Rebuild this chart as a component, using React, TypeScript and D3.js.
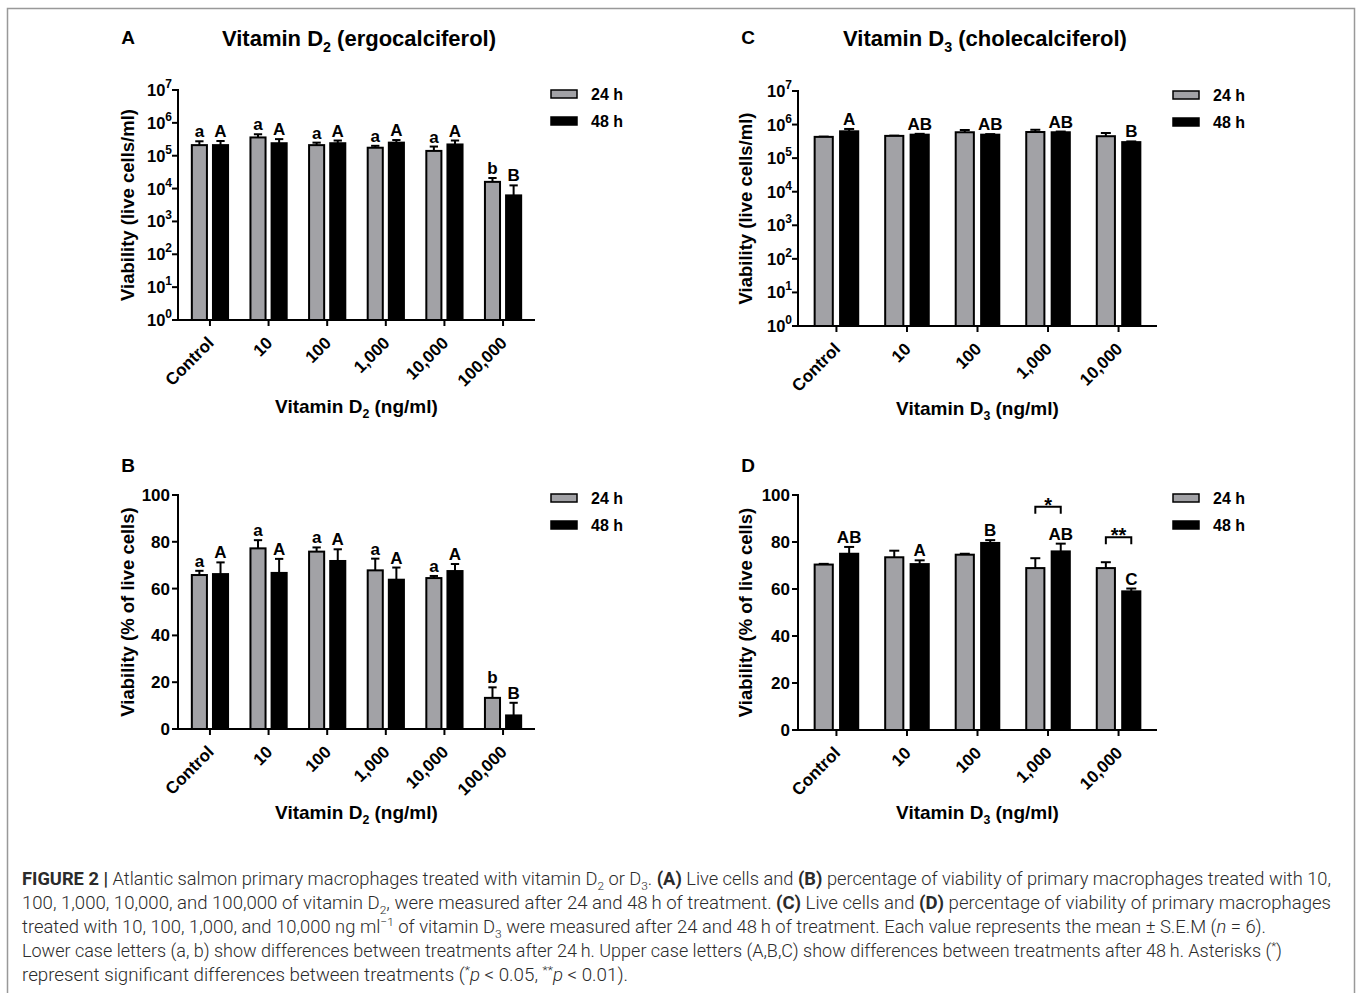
import React from 'react';
import * as d3 from 'd3';

// categories
const catsD2 = ['Control', '10', '100', '1,000', '10,000', '100,000'];
const catsD3 = ['Control', '10', '100', '1,000', '10,000'];
const seriesNames = ['24 h', '48 h'];

// A - vitamin D2, live cells/ml (mean, sem)
const d2Live24 = [2.1e5, 3.6e5, 2.1e5, 1.75e5, 1.4e5, 1.6e4];
const d2Live24Sem = [0.65e5, 0.9e5, 0.4e5, 0.25e5, 0.5e5, 0.5e4];
const d2Live48 = [2.1e5, 2.4e5, 2.4e5, 2.5e5, 2.2e5, 6.2e3];
const d2Live48Sem = [0.7e5, 0.8e5, 0.5e5, 0.5e5, 0.7e5, 6.3e3];
const d2Letters24 = ['a', 'a', 'a', 'a', 'a', 'b'];
const d2Letters48 = ['A', 'A', 'A', 'A', 'A', 'B'];

// B - vitamin D2, % viability
const d2Pct24 = [65.8, 77.2, 75.8, 67.8, 64.5, 13.3];
const d2Pct24Sem = [1.8, 3.5, 1.8, 5.0, 0.9, 4.5];
const d2Pct48 = [66.2, 66.7, 71.8, 63.8, 67.5, 5.8];
const d2Pct48Sem = [5.0, 6.0, 5.0, 5.2, 3.0, 5.4];

// C - vitamin D3, live cells/ml
const d3Live24 = [4.3e5, 4.6e5, 5.9e5, 6.0e5, 4.5e5];
const d3Live24Sem = [0.08e5, 0.08e5, 1.0e5, 1.0e5, 1.1e5];
const d3Live48 = [6.3e5, 5.0e5, 5.0e5, 5.9e5, 3.0e5];
const d3Live48Sem = [1.1e5, 0.3e5, 0.2e5, 0.3e5, 0.15e5];
const d3LiveLetters48 = ['A', 'AB', 'AB', 'AB', 'B'];

// D - vitamin D3, % viability
const d3Pct24 = [70.4, 73.5, 74.6, 68.9, 68.9];
const d3Pct24Sem = [0.3, 2.8, 0.4, 4.2, 2.5];
const d3Pct48 = [75.0, 70.6, 79.6, 76.0, 59.0];
const d3Pct48Sem = [2.9, 1.6, 1.2, 3.3, 1.2];
const d3PctLetters48 = ['AB', 'A', 'B', 'AB', 'C'];
const d3PctSig = [
  { cat: '1,000', level: 95, mark: '*' },
  { cat: '10,000', level: 82, mark: '**' },
];

const logTicks = [1, 10, 100, 1e3, 1e4, 1e5, 1e6, 1e7];
const pctTicks = [0, 20, 40, 60, 80, 100];

const FONT = "'Liberation Sans', Arial, Helvetica, sans-serif";
const GRAY = '#a2a2a6';

// caption lines: [text, style]
const captionLines = [
  [['FIGURE 2 |', 'b'], [' Atlantic salmon primary macrophages treated with vitamin D', ''], ['2', 'sub'], [' or D', ''], ['3', 'sub'], ['. ', ''], ['(A)', 'b'], [' Live cells and ', ''], ['(B)', 'b'], [' percentage of viability of primary macrophages treated with 10,', '']],
  [['100, 1,000, 10,000, and 100,000 of vitamin D', ''], ['2', 'sub'], [', were measured after 24 and 48\u2009h of treatment. ', ''], ['(C)', 'b'], [' Live cells and ', ''], ['(D)', 'b'], [' percentage of viability of primary macrophages', '']],
  [['treated with 10, 100, 1,000, and 10,000 ng ml', ''], ['\u22121', 'sup'], [' of vitamin D', ''], ['3', 'sub'], [' were measured after 24 and 48\u2009h of treatment. Each value represents the mean \u00b1 S.E.M (', ''], ['n', 'i'], [' = 6).', '']],
  [['Lower case letters (a, b) show differences between treatments after 24\u2009h. Upper case letters (A,B,C) show differences between treatments after 48\u2009h. Asterisks (', ''], ['*', 'sup'], [')', '']],
  [['represent significant differences between treatments (', ''], ['*', 'sup'], ['p', 'i'], [' < 0.05, ', ''], ['**', 'sup'], ['p', 'i'], [' < 0.01).', '']],
];
const captionEnds = [1331, 1331, 1266, 1282, 628];

function RichText({ x, y, parts, size, anchor = 'start', weight = 'bold', family = FONT, fill = '#000', length, transform }: any) {
  let shift = 0;
  const subSize = size * 0.65;
  return (
    <text x={x} y={y} fontSize={size} fontFamily={family} fontWeight={weight} fill={fill}
      textAnchor={anchor} transform={transform}
      textLength={length} lengthAdjust={length ? 'spacingAndGlyphs' : undefined}>
      {parts.map(([t, st]: any, i: number) => {
        let target = 0;
        if (st === 'sub') target = size * 0.28;
        if (st === 'sup') target = -size * 0.38;
        const dy = target - shift;
        shift = target;
        return (
          <tspan key={i} dy={dy}
            fontSize={st === 'sub' || st === 'sup' ? subSize : undefined}
            fontWeight={st === 'b' ? 'bold' : undefined}
            fontStyle={st === 'i' ? 'italic' : undefined}>{t}</tspan>
        );
      })}
    </text>
  );
}

function Panel({ cfg }: any) {
  const { x0, x1, yTop, yBottom, log, cats } = cfg;
  const x = d3.scaleBand().domain(cats).range([x0, x1]).paddingInner(0).paddingOuter(0.045);
  const sub = d3.scaleBand().domain(seriesNames).range([0, x.bandwidth()]).paddingInner(0.286).paddingOuter(0.53);
  const y: any = log
    ? d3.scaleLog().domain([1, 1e7]).range([yBottom, yTop])
    : d3.scaleLinear().domain([0, 100]).range([yBottom, yTop]);
  const bw = sub.bandwidth();
  const capW = bw * 0.55;
  const series = [
    { name: '24 h', mean: cfg.m24, sem: cfg.s24, letters: cfg.l24, fill: GRAY },
    { name: '48 h', mean: cfg.m48, sem: cfg.s48, letters: cfg.l48, fill: '#000' },
  ];
  const ticks = log ? logTicks : pctTicks;
  const cx = (c: string) => (x(c) as number) + x.bandwidth() / 2;

  return (
    <g>
      {/* bars */}
      {series.map((s) => cats.map((c: string, i: number) => {
        const bx = (x(c) as number) + (sub(s.name) as number);
        const top = y(s.mean[i]);
        const errTop = y(s.mean[i] + s.sem[i]);
        const mx = bx + bw / 2;
        return (
          <g key={s.name + c}>
            <line x1={mx} x2={mx} y1={top} y2={errTop} stroke="#000" strokeWidth={2} />
            <line x1={mx - capW / 2} x2={mx + capW / 2} y1={errTop} y2={errTop} stroke="#000" strokeWidth={2} />
            <rect x={bx} y={top} width={bw} height={yBottom - top} fill={s.fill} stroke="#000" strokeWidth={2} />
            {s.letters && (
              <text x={mx} y={errTop - 4} textAnchor="middle" fontFamily={FONT} fontWeight="bold" fontSize={17}>{s.letters[i]}</text>
            )}
          </g>
        );
      }))}
      {/* axes */}
      <line x1={x0} x2={x0} y1={yTop - 1} y2={yBottom + 1} stroke="#000" strokeWidth={2} />
      <line x1={x0 - 1} x2={x1} y1={yBottom} y2={yBottom} stroke="#000" strokeWidth={2} />
      {ticks.map((t) => (
        <g key={t}>
          <line x1={x0 - 6} x2={x0} y1={y(t)} y2={y(t)} stroke="#000" strokeWidth={2} />
          {log ? (
            <text x={x0 - 6} y={y(t) + 6} textAnchor="end" fontFamily={FONT} fontWeight="bold" fontSize={16.5}>
              10<tspan fontSize={12} dy={-8}>{Math.round(Math.log10(t))}</tspan>
            </text>
          ) : (
            <text x={x0 - 8} y={y(t) + 6} textAnchor="end" fontFamily={FONT} fontWeight="bold" fontSize={17}>{t}</text>
          )}
        </g>
      ))}
      {cats.map((c: string) => (
        <g key={c}>
          <line x1={cx(c)} x2={cx(c)} y1={yBottom} y2={yBottom + 6} stroke="#000" strokeWidth={2} />
          <text transform={`translate(${cx(c) + 5},${yBottom + 24}) rotate(-45)`} textAnchor="end"
            fontFamily={FONT} fontWeight="bold" fontSize={17}>{c}</text>
        </g>
      ))}
      {/* significance brackets */}
      {(cfg.sig || []).map((s: any) => {
        const a = (x(s.cat) as number) + (sub('24 h') as number) + bw / 2;
        const b = (x(s.cat) as number) + (sub('48 h') as number) + bw / 2;
        const by = y(s.level);
        return (
          <g key={s.cat}>
            <path d={`M${a},${by + 7}V${by}H${b}V${by + 7}`} fill="none" stroke="#000" strokeWidth={2} />
            <text x={(a + b) / 2} y={by + 5} textAnchor="middle" fontFamily={FONT} fontWeight="bold" fontSize={20}>{s.mark}</text>
          </g>
        );
      })}
      {/* legend */}
      {series.map((s, i) => (
        <g key={s.name}>
          <rect x={cfg.legendX} y={cfg.legendY + i * 27} width={26} height={8} fill={s.fill} stroke="#000" strokeWidth={1.5} />
          <text x={cfg.legendX + 40} y={cfg.legendY + i * 27 + 10} fontFamily={FONT} fontWeight="bold" fontSize={16}>{s.name}</text>
        </g>
      ))}
      {/* labels */}
      <text x={cfg.tag[0]} y={cfg.tag[1]} textAnchor="middle" fontFamily={FONT} fontWeight="bold" fontSize={19}>{cfg.tag[2]}</text>
      {cfg.title && <RichText x={cfg.title[0]} y={cfg.title[1]} parts={cfg.title[2]} size={22} anchor="middle" />}
      <RichText x={(x0 + x1) / 2} y={cfg.xTitleY} parts={cfg.xTitle} size={19} anchor="middle" />
      <text transform={`translate(${cfg.yTitleX},${(yTop + yBottom) / 2}) rotate(-90)`} textAnchor="middle"
        fontFamily={FONT} fontWeight="bold" fontSize={18.5}>{cfg.yTitle}</text>
    </g>
  );
}

const panels = [
  {
    x0: 178, x1: 535, yTop: 90, yBottom: 320, log: true, cats: catsD2,
    m24: d2Live24, s24: d2Live24Sem, m48: d2Live48, s48: d2Live48Sem, l24: d2Letters24, l48: d2Letters48,
    legendX: 551, legendY: 90, tag: [128, 44, 'A'],
    title: [359, 46, [['Vitamin D', ''], ['2', 'sub'], [' (ergocalciferol)', '']]],
    xTitle: [['Vitamin D', ''], ['2', 'sub'], [' (ng/ml)', '']], xTitleY: 413,
    yTitle: 'Viability (live cells/ml)', yTitleX: 134,
  },
  {
    x0: 178, x1: 535, yTop: 495, yBottom: 729, log: false, cats: catsD2,
    m24: d2Pct24, s24: d2Pct24Sem, m48: d2Pct48, s48: d2Pct48Sem, l24: d2Letters24, l48: d2Letters48,
    legendX: 551, legendY: 494, tag: [128, 472, 'B'],
    xTitle: [['Vitamin D', ''], ['2', 'sub'], [' (ng/ml)', '']], xTitleY: 819,
    yTitle: 'Viability (% of live cells)', yTitleX: 134,
  },
  {
    x0: 798, x1: 1157, yTop: 91, yBottom: 326, log: true, cats: catsD3,
    m24: d3Live24, s24: d3Live24Sem, m48: d3Live48, s48: d3Live48Sem, l24: null, l48: d3LiveLetters48,
    legendX: 1173, legendY: 91, tag: [748, 44, 'C'],
    title: [985, 46, [['Vitamin D', ''], ['3', 'sub'], [' (cholecalciferol)', '']]],
    xTitle: [['Vitamin D', ''], ['3', 'sub'], [' (ng/ml)', '']], xTitleY: 415,
    yTitle: 'Viability (live cells/ml)', yTitleX: 752,
  },
  {
    x0: 798, x1: 1157, yTop: 495, yBottom: 730, log: false, cats: catsD3,
    m24: d3Pct24, s24: d3Pct24Sem, m48: d3Pct48, s48: d3Pct48Sem, l24: null, l48: d3PctLetters48,
    sig: d3PctSig,
    legendX: 1173, legendY: 494, tag: [748, 472, 'D'],
    xTitle: [['Vitamin D', ''], ['3', 'sub'], [' (ng/ml)', '']], xTitleY: 819,
    yTitle: 'Viability (% of live cells)', yTitleX: 752,
  },
];

export default function App() {
  return (
    <svg width={1357} height={993} style={{ position: 'absolute', left: 0, top: 0, background: '#fff' }}>
      <rect x={0} y={0} width={1357} height={993} fill="#fff" />
      <rect x={7.5} y={8.5} width={1347} height={1000} fill="none" stroke="#999" strokeWidth={1.5} />
      {panels.map((p, i) => <Panel key={i} cfg={p} />)}
      {captionLines.map((line, i) => (
        <RichText key={i} x={22} y={885 + i * 24} parts={line} size={18} weight={300}
          family="Roboto, 'Liberation Sans', sans-serif" fill="#2b2b2b" length={captionEnds[i] - 22} />
      ))}
    </svg>
  );
}
